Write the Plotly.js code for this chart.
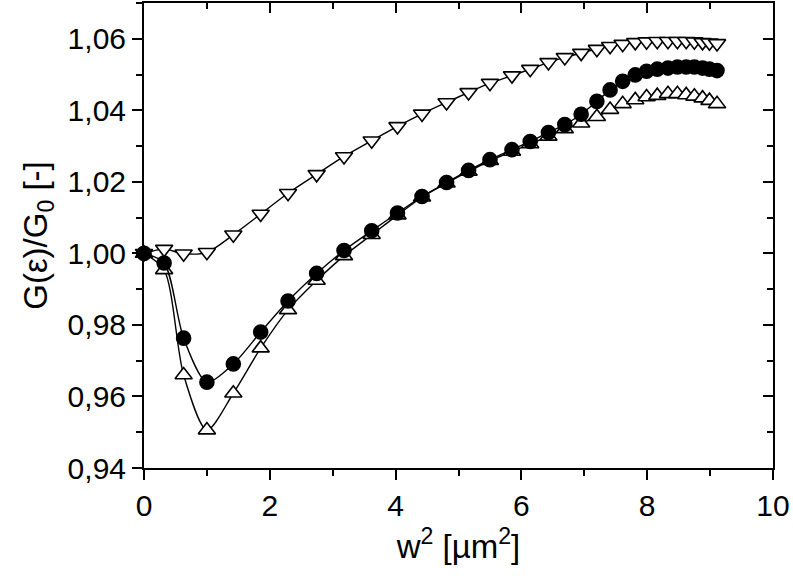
<!DOCTYPE html>
<html>
<head>
<meta charset="utf-8">
<script src="https://cdn.plot.ly/plotly-3.0.1.min.js"></script>
<style>
  html, body { margin: 0; padding: 0; background: #fff; }
  #plot { width: 793px; height: 584px; }
</style>
</head>
<body>
<div id="plot"></div>
<script>
// w^2 values shared by the three series
const w2 = [0, 0.32, 0.63, 1.0, 1.42, 1.855, 2.29, 2.745, 3.18, 3.62, 4.03,
    4.42, 4.81, 5.16, 5.50, 5.85, 6.14, 6.43, 6.69, 6.95, 7.20, 7.41, 7.61,
    7.81, 7.99, 8.16, 8.33, 8.48, 8.62, 8.75, 8.88, 8.99, 9.11];

// open triangles pointing down (upper curve)
const gDown = [1.000, 1.0012, 0.9999, 1.0003, 1.0052, 1.0110, 1.0168, 1.0221,
    1.0271, 1.0315, 1.0355, 1.0390, 1.0422, 1.0450, 1.0476, 1.0497, 1.0515,
    1.0534, 1.0548, 1.0560, 1.0571, 1.0579, 1.0585, 1.0590, 1.0592, 1.0593,
    1.0593, 1.0593, 1.0593, 1.0592, 1.0590, 1.0589, 1.0587];

// filled circles
const gCircle = [1.000, 0.9973, 0.9763, 0.9640, 0.9691, 0.9780, 0.9867, 0.9944,
    1.0008, 1.0063, 1.0113, 1.0159, 1.0198, 1.0232, 1.0262, 1.0290, 1.0313,
    1.0338, 1.0360, 1.0389, 1.0425, 1.0457, 1.0481, 1.0499, 1.0509, 1.0515,
    1.0518, 1.0521, 1.0521, 1.0521, 1.0518, 1.0515, 1.0511];

// open triangles pointing up
const gUp = [1.000, 0.9954, 0.9660, 0.9506, 0.9609, 0.9735, 0.9842, 0.9924,
    0.9993, 1.0052, 1.0107, 1.0157, 1.0196, 1.0229, 1.0259, 1.0285, 1.0306,
    1.0327, 1.0348, 1.0364, 1.0382, 1.0402, 1.0418, 1.0429, 1.0437, 1.0441,
    1.0446, 1.0446, 1.0443, 1.0439, 1.0434, 1.0427, 1.0418];

const xTicks = [0, 2, 4, 6, 8, 10];
const yTicks = [0.94, 0.96, 0.98, 1.00, 1.02, 1.04, 1.06];

const lineStyle = { color: 'black', width: 1.4, shape: 'spline', smoothing: 0.8 };

function series(y, symbol, fill, size) {
    return {
        x: w2,
        y: y,
        type: 'scatter',
        mode: 'lines+markers',
        line: lineStyle,
        marker: {
            symbol: symbol,
            size: size,
            color: fill,
            line: { color: 'black', width: 1.6 }
        },
        cliponaxis: false,
        showlegend: false
    };
}

const traces = [
    series(gDown, 'triangle-down', 'white', 15),
    series(gUp, 'triangle-up', 'white', 15),
    series(gCircle, 'circle', 'black', 14),
    // empty trace so the mirror axes exist
    { x: [], y: [], xaxis: 'x2', yaxis: 'y2', type: 'scatter', showlegend: false }
];

const tickFont = { family: 'Liberation Sans, Arial, sans-serif', size: 30, color: 'black' };
const titleFont = { family: 'Liberation Sans, Arial, sans-serif', size: 33, color: 'black' };

const layout = {
    width: 793,
    height: 584,
    margin: { l: 144, r: 20, t: 3, b: 116 },
    paper_bgcolor: 'white',
    plot_bgcolor: 'white',
    separators: ',.',
    xaxis: {
        range: [0, 10],
        tickvals: xTicks,
        ticks: 'outside',
        ticklen: 10,
        tickwidth: 2,
        tickcolor: 'black',
        minor: { dtick: 1, ticks: 'outside', ticklen: 6, tickwidth: 2, tickcolor: 'black' },
        showline: true,
        linewidth: 2,
        linecolor: 'black',
        showgrid: false,
        zeroline: false,
        tickfont: tickFont,
        title: { text: 'w<sup>2</sup> [µm<sup>2</sup>]', font: titleFont, standoff: 14 }
    },
    yaxis: {
        range: [0.94, 1.07],
        tickvals: yTicks,
        tickformat: '.2f',
        ticks: 'outside',
        ticklen: 10,
        tickwidth: 2,
        tickcolor: 'black',
        minor: { dtick: 0.01, tick0: 0.94, ticks: 'outside', ticklen: 6, tickwidth: 2, tickcolor: 'black' },
        showline: true,
        linewidth: 2,
        linecolor: 'black',
        showgrid: false,
        zeroline: false,
        tickfont: tickFont,
        title: { text: 'G(ε)/G<sub>0</sub> [-]', font: titleFont, standoff: 10 }
    },
    xaxis2: {
        overlaying: 'x',
        side: 'top',
        range: [0, 10],
        tickvals: xTicks,
        ticks: 'inside',
        ticklen: 10,
        tickwidth: 2,
        tickcolor: 'black',
        minor: { dtick: 1, ticks: 'inside', ticklen: 6, tickwidth: 2, tickcolor: 'black' },
        showticklabels: false,
        showline: true,
        linewidth: 2,
        linecolor: 'black',
        showgrid: false,
        zeroline: false
    },
    yaxis2: {
        overlaying: 'y',
        side: 'right',
        range: [0.94, 1.07],
        tickvals: yTicks,
        ticks: 'inside',
        ticklen: 10,
        tickwidth: 2,
        tickcolor: 'black',
        minor: { dtick: 0.01, tick0: 0.94, ticks: 'inside', ticklen: 6, tickwidth: 2, tickcolor: 'black' },
        showticklabels: false,
        showline: true,
        linewidth: 2,
        linecolor: 'black',
        showgrid: false,
        zeroline: false
    },
    showlegend: false
};

Plotly.newPlot('plot', traces, layout, { displayModeBar: false, staticPlot: true });
</script>
</body>
</html>
